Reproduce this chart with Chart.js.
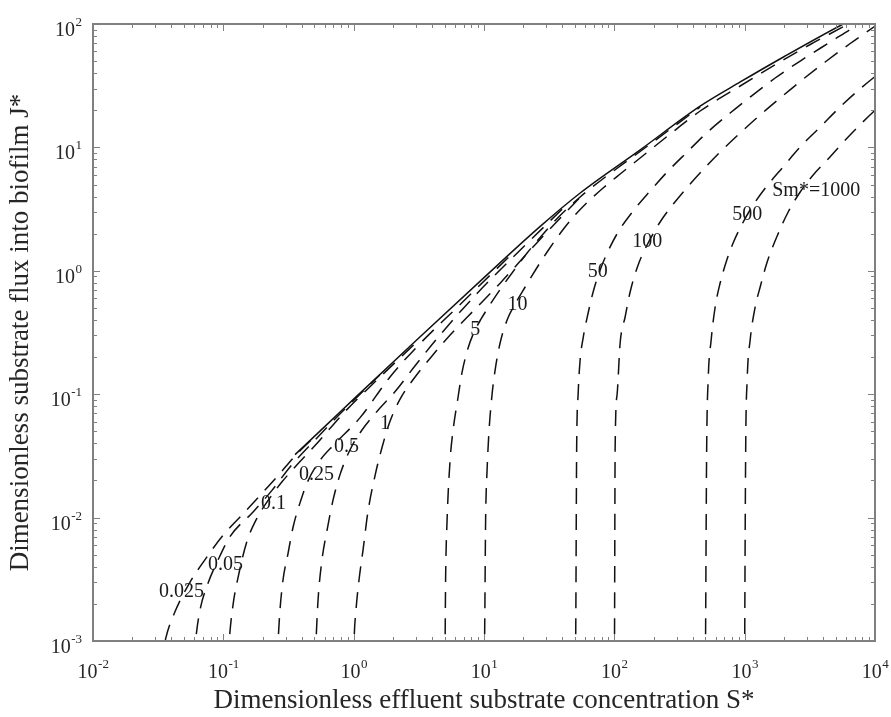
<!DOCTYPE html>
<html><head><meta charset="utf-8">
<script src="https://cdn.jsdelivr.net/npm/chart.js@4.4.1/dist/chart.umd.min.js"></script>
<style>html,body{margin:0;padding:0;background:#fff;}#wrap{width:891px;height:717px;}</style>
</head><body><div id="wrap"><canvas id="c" width="891" height="717"></canvas></div>
<script>
// ---- tick labels (powers of ten) ----
const xTickExponents = ['-2','-1','0','1','2','3','4'];
const yTickExponents = ['-3','-2','-1','0','1','2'];
const xTitle = 'Dimensionless effluent substrate concentration S*';
const yTitle = 'Dimensionless substrate flux into biofilm J*';

// ---- envelope (solid) ----
const envS = [0.355, 0.631, 1.0, 3.16, 10, 27.0, 54.7, 158, 455, 925, 2000, 5700, 7080];
const envJ = [0.0324, 0.0575, 0.0912, 0.285, 0.881, 2.29, 4.27, 9.55, 21.6, 33.9, 54.3, 100, 112];

// ---- Sm* curves (dashed) ----
const sm0025S = [0.0331, 0.0363, 0.0427, 0.0550, 0.0724, 0.100, 0.139, 0.191, 0.263, 0.355, 0.501];
const sm0025J = [0.00063, 0.00107, 0.00174, 0.00295, 0.00457, 0.00724, 0.0105, 0.0151, 0.0219, 0.0316, 0.0452];

const sm005S = [0.0596, 0.0617, 0.0662, 0.0764, 0.0910, 0.112, 0.169, 0.237, 0.325, 0.506, 0.794, 1.585];
const sm005J = [0.00070, 0.00108, 0.00178, 0.00295, 0.00453, 0.00697, 0.0111, 0.0167, 0.0257, 0.0426, 0.0700, 0.143];

const sm01S = [0.109, 0.111, 0.119, 0.130, 0.151, 0.180, 0.224, 0.282, 0.355, 0.501, 0.859, 1.459, 3.16];
const sm01J = [0.00070, 0.00100, 0.00200, 0.00331, 0.00631, 0.00977, 0.0141, 0.0195, 0.0257, 0.0380, 0.0724, 0.126, 0.275];

const sm025S = [0.258, 0.263, 0.272, 0.287, 0.314, 0.343, 0.394, 0.439, 0.533, 0.719, 1.12, 1.90, 3.16, 6.31, 15.8];
const sm025J = [0.00070, 0.00100, 0.00178, 0.00312, 0.00516, 0.00839, 0.0139, 0.0191, 0.0277, 0.0398, 0.0646, 0.138, 0.251, 0.513, 1.32];

const sm05S = [0.506, 0.514, 0.533, 0.571, 0.625, 0.695, 0.787, 0.938, 1.159, 1.538, 2.08, 2.96, 4.60, 8.91, 19.95, 39.8];
const sm05J = [0.00070, 0.00100, 0.00215, 0.00453, 0.00793, 0.0139, 0.0224, 0.0355, 0.0513, 0.0741, 0.105, 0.170, 0.302, 0.661, 1.55, 3.16];

const sm1S = [1.0, 1.007, 1.042, 1.099, 1.180, 1.288, 1.459, 1.652, 1.901, 2.27, 2.96, 3.85, 5.50, 8.55, 13.3, 25.1, 56.2];
const sm1J = [0.00070, 0.00100, 0.00178, 0.00312, 0.00546, 0.0112, 0.0219, 0.0372, 0.0603, 0.0912, 0.138, 0.195, 0.302, 0.490, 0.794, 1.66, 4.07];

const sm5S = [5.0, 5.03, 5.074, 5.210, 5.495, 5.794, 6.326, 6.790, 7.551, 8.395, 9.500, 11.14, 13.29, 16.73, 21.42, 26.95, 38.37, 54.65, 77.80, 157.8, 455.5];
const sm5J = [0.00070, 0.00100, 0.00312, 0.00956, 0.0293, 0.0513, 0.0949, 0.151, 0.237, 0.319, 0.407, 0.533, 0.705, 0.987, 1.394, 1.862, 2.807, 3.964, 5.343, 9.265, 21.26];

const sm10S = [10.0, 10.1, 10.29, 10.56, 10.94, 11.54, 12.17, 13.29, 15.04, 17.33, 20.68, 25.11, 30.50, 40.46, 50.03, 61.84, 82.04, 110.8, 157.8, 268.1, 455.5, 923.9, 1975, 3182, 6226, 7047];
const sm10J = [0.00070, 0.00100, 0.00956, 0.0243, 0.0513, 0.1004, 0.157, 0.260, 0.399, 0.538, 0.739, 1.034, 1.420, 2.161, 2.833, 3.577, 4.688, 6.087, 8.205, 12.84, 19.72, 31.45, 51.08, 68.23, 100, 107.8];

const sm50S = [50.0, 50.5, 51.38, 52.76, 54.65, 57.62, 62.95, 68.77, 77.80, 89.63, 107.0, 139.5, 188.3, 254.2, 362.0, 515.4, 774.0, 1102, 1714, 2667, 4532, 7301, 8262];
const sm50J = [0.00070, 0.00100, 0.0353, 0.1004, 0.1892, 0.2853, 0.455, 0.673, 1.015, 1.447, 2.063, 3.052, 4.433, 6.318, 9.178, 13.21, 19.00, 25.61, 36.51, 50.13, 71.47, 98.15, 107.8];

const sm100S = [100, 100.3, 101.4, 105.1, 110.8, 121.0, 132.2, 152.3, 181.7, 224.6, 287.6, 381.6, 497.6, 648.6, 923.9, 1315, 1873, 2667, 4148, 6451, 10030, 11360];
const sm100J = [0.00070, 0.00100, 0.0353, 0.1004, 0.2601, 0.4223, 0.6734, 1.114, 1.680, 2.486, 3.543, 5.050, 6.873, 9.178, 13.08, 18.31, 25.14, 34.20, 49.21, 69.50, 96.34, 105.8];

const sm500S = [500, 501, 510.9, 524.7, 553.3, 593.8, 648.6, 721.1, 815.6, 957.3, 1162, 1462, 1940, 2667, 3797, 5700, 9687, 10960];
const sm500J = [0.00070, 0.00100, 0.0353, 0.1303, 0.2749, 0.5089, 0.7964, 1.178, 1.680, 2.395, 3.414, 4.776, 6.810, 10.07, 14.63, 22.47, 36.51, 40.08];

const sm1000S = [1000, 1001, 1018, 1045, 1102, 1204, 1315, 1488, 1776, 2157, 2667, 3355, 4297, 6119, 9687, 10960];
const sm1000J = [0.00070, 0.00100, 0.0353, 0.1303, 0.2749, 0.5089, 0.7390, 1.178, 1.914, 2.996, 4.350, 5.975, 7.905, 11.92, 19.36, 21.65];

// ---- curve labels (text and data-space anchor) ----
const labelTexts = ['0.025', '0.05', '0.1', '0.25', '0.5', '1', '5', '10', '50', '100', '500', 'Sm*=1000'];
const labelS = [0.0478, 0.104, 0.243, 0.519, 0.883, 1.74, 8.55, 18.1, 74.5, 178.6, 1045, 3540];
const labelJ = [0.00252, 0.00417, 0.0130, 0.0223, 0.0377, 0.0574, 0.331, 0.528, 0.986, 1.73, 2.86, 4.44];

function pts(sx, jy) { return sx.map((s, i) => ({ x: s, y: jy[i] })); }

const curves = [
  [sm0025S, sm0025J], [sm005S, sm005J], [sm01S, sm01J], [sm025S, sm025J],
  [sm05S, sm05J], [sm1S, sm1J], [sm5S, sm5J], [sm10S, sm10J],
  [sm50S, sm50J], [sm100S, sm100J], [sm500S, sm500J], [sm1000S, sm1000J]
];

const datasets = curves.map(([s, j], i) => ({
  label: labelTexts[i],
  data: pts(s, j),
  showLine: true,
  borderColor: '#111',
  borderWidth: 1.5,
  borderDash: [16, 10],
  pointRadius: 0,
  fill: false,
  cubicInterpolationMode: 'monotone'
}));
datasets.push({
  label: 'envelope',
  data: pts(envS, envJ),
  showLine: true,
  borderColor: '#111',
  borderWidth: 1.5,
  pointRadius: 0,
  fill: false,
  cubicInterpolationMode: 'monotone'
});

const SERIF = '"Liberation Serif", "Times New Roman", serif';
const AXIS_GRAY = '#808080';
const TEXT_COL = '#262626';

const decorPlugin = {
  id: 'decor',
  afterDatasetsDraw(chart) {
    const { ctx, chartArea: a, scales: { x, y } } = chart;
    ctx.save();
    ctx.strokeStyle = AXIS_GRAY;
    ctx.lineWidth = 1;
    ctx.beginPath();
    for (let e = -2; e <= 4; e++) {
      for (let m = 1; m <= 9; m++) {
        const v = m * Math.pow(10, e);
        if (v > 10000 * 1.0001) continue;
        const px = Math.round(x.getPixelForValue(v)) + 0.5;
        const L = m === 1 ? 7 : 4;
        ctx.moveTo(px, a.bottom); ctx.lineTo(px, a.bottom - L);
        ctx.moveTo(px, a.top); ctx.lineTo(px, a.top + L);
      }
    }
    for (let e = -3; e <= 2; e++) {
      for (let m = 1; m <= 9; m++) {
        const v = m * Math.pow(10, e);
        if (v > 100 * 1.0001) continue;
        const py = Math.round(y.getPixelForValue(v)) + 0.5;
        const L = m === 1 ? 7 : 4;
        ctx.moveTo(a.left, py); ctx.lineTo(a.left + L, py);
        ctx.moveTo(a.right, py); ctx.lineTo(a.right - L, py);
      }
    }
    ctx.stroke();
    ctx.lineWidth = 2;
    ctx.strokeRect(a.left, a.top, a.right - a.left, a.bottom - a.top);

    ctx.fillStyle = TEXT_COL;
    ctx.textBaseline = 'alphabetic';
    ctx.textAlign = 'left';
    const big = '20px ' + SERIF, small = '13px ' + SERIF;
    xTickExponents.forEach(ex => {
      const px = x.getPixelForValue(Math.pow(10, Number(ex)));
      ctx.font = big; const w1 = ctx.measureText('10').width;
      ctx.font = small; const w2 = ctx.measureText(ex).width;
      const x0 = px - (w1 + w2) / 2;
      ctx.font = big; ctx.fillText('10', x0, a.bottom + 37);
      ctx.font = small; ctx.fillText(ex, x0 + w1 + 0.5, a.bottom + 27);
    });
    yTickExponents.forEach(ex => {
      const py = y.getPixelForValue(Math.pow(10, Number(ex)));
      ctx.font = small; const w2 = ctx.measureText(ex).width;
      ctx.font = big; const w1 = ctx.measureText('10').width;
      const xr = a.left - 11;
      ctx.font = big; ctx.fillText('10', xr - w2 - w1 - 0.5, py + 12);
      ctx.font = small; ctx.fillText(ex, xr - w2, py + 2);
    });

    ctx.font = '20px ' + SERIF;
    ctx.textAlign = 'center';
    ctx.textBaseline = 'middle';
    ctx.fillStyle = '#1a1a1a';
    labelTexts.forEach((t, i) => {
      ctx.fillText(t, x.getPixelForValue(labelS[i]), y.getPixelForValue(labelJ[i]));
    });
    ctx.restore();
  }
};

new Chart(document.getElementById('c'), {
  type: 'scatter',
  data: { datasets },
  options: {
    responsive: false,
    animation: false,
    devicePixelRatio: 1,
    layout: { padding: { left: 0, right: 16, top: 24, bottom: 0 } },
    plugins: { legend: { display: false }, tooltip: { enabled: false } },
    scales: {
      x: {
        type: 'logarithmic', min: 0.01, max: 10000,
        grid: { display: false, drawTicks: false },
        border: { display: false },
        ticks: { display: false },
        title: { display: true, text: xTitle, color: TEXT_COL,
                 font: { family: SERIF, size: 27 }, padding: { top: 0, bottom: 0 } },
        afterFit: s => { s.height = 76; }
      },
      y: {
        type: 'logarithmic', min: 0.001, max: 100,
        grid: { display: false, drawTicks: false },
        border: { display: false },
        ticks: { display: false },
        title: { display: true, text: yTitle, color: TEXT_COL,
                 font: { family: SERIF, size: 27 }, padding: { top: 5, bottom: 0 } },
        afterFit: s => { s.width = 93; }
      }
    }
  },
  plugins: [decorPlugin]
});
</script></body></html>
